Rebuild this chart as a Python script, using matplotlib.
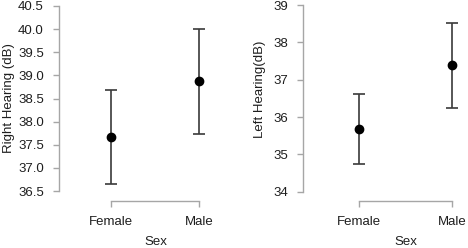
import matplotlib
matplotlib.use("Agg")
import matplotlib.pyplot as plt

plt.rcParams['font.family'] = ['Liberation Sans', 'DejaVu Sans']

sexes = ["Female", "Male"]

# right ear: mean and confidence bounds
right_mean = [37.66, 38.87]
right_low = [36.65, 37.73]
right_high = [38.68, 40.01]

# left ear
left_mean = [35.68, 37.38]
left_low = [34.75, 36.25]
left_high = [36.61, 38.51]

right_ticks = [36.5, 37.0, 37.5, 38.0, 38.5, 39.0, 39.5, 40.0, 40.5]
left_ticks = [34, 35, 36, 37, 38, 39]

W, H = 468, 248
fig = plt.figure(figsize=(W / 100, H / 100), dpi=100)

spine_col = "#a6a6a6"
text_col = "#1e1e1e"
fs = 9.5

def panel(rect, means, lows, highs, ticks, ylim, xlim, ylabel, ylab_xy, xlab_x, fmt):
	ax = fig.add_axes(rect)
	xs = list(range(len(sexes)))
	err = [[m - lo for m, lo in zip(means, lows)], [hi - m for m, hi in zip(means, highs)]]
	ax.errorbar(xs, means, yerr=err, fmt='o', color='black', ms=6,
		ecolor='#3a3a3a', elinewidth=1.2, capsize=4, capthick=1.2)
	ax.set_xlim(*xlim)
	ax.set_ylim(*ylim)
	ax.set_xticks(xs)
	ax.set_xticklabels(sexes)
	ax.set_yticks(ticks)
	ax.set_yticklabels([fmt.format(t) for t in ticks])
	for s in ["top", "right"]:
		ax.spines[s].set_visible(False)
	ax.spines["left"].set_bounds(ticks[0], ticks[-1])
	ax.spines["bottom"].set_bounds(0, 1)
	for s in ["left", "bottom"]:
		ax.spines[s].set_color(spine_col)
		ax.spines[s].set_linewidth(1.0)
	ax.tick_params(axis='both', colors=spine_col, labelcolor=text_col, labelsize=fs, length=4, width=1.0)
	ax.tick_params(axis='y', pad=7)
	ax.tick_params(axis='x', pad=7)
	ax.set_ylabel(ylabel, fontsize=fs, color=text_col)
	ax.yaxis.set_label_coords(*ylab_xy)
	ax.set_xlabel("Sex", fontsize=fs, color=text_col)
	ax.xaxis.set_label_coords(xlab_x, -0.178)
	ax.patch.set_visible(False)
	return ax

panel([59 / W, 47 / H, 162 / W, 195 / H], right_mean, right_low, right_high,
	right_ticks, (36.284, 40.5), (-0.59, 1.25), "Right Hearing (dB)", (-0.272, 0.528), 0.60, "{:.1f}")
panel([303 / W, 47 / H, 163 / W, 196 / H], left_mean, left_low, left_high,
	left_ticks, (33.75, 39), (-0.60, 1.15), "Left Hearing(dB)", (-0.227, 0.569), 0.63, "{:.0f}")

fig.savefig("out.png", dpi=100)
